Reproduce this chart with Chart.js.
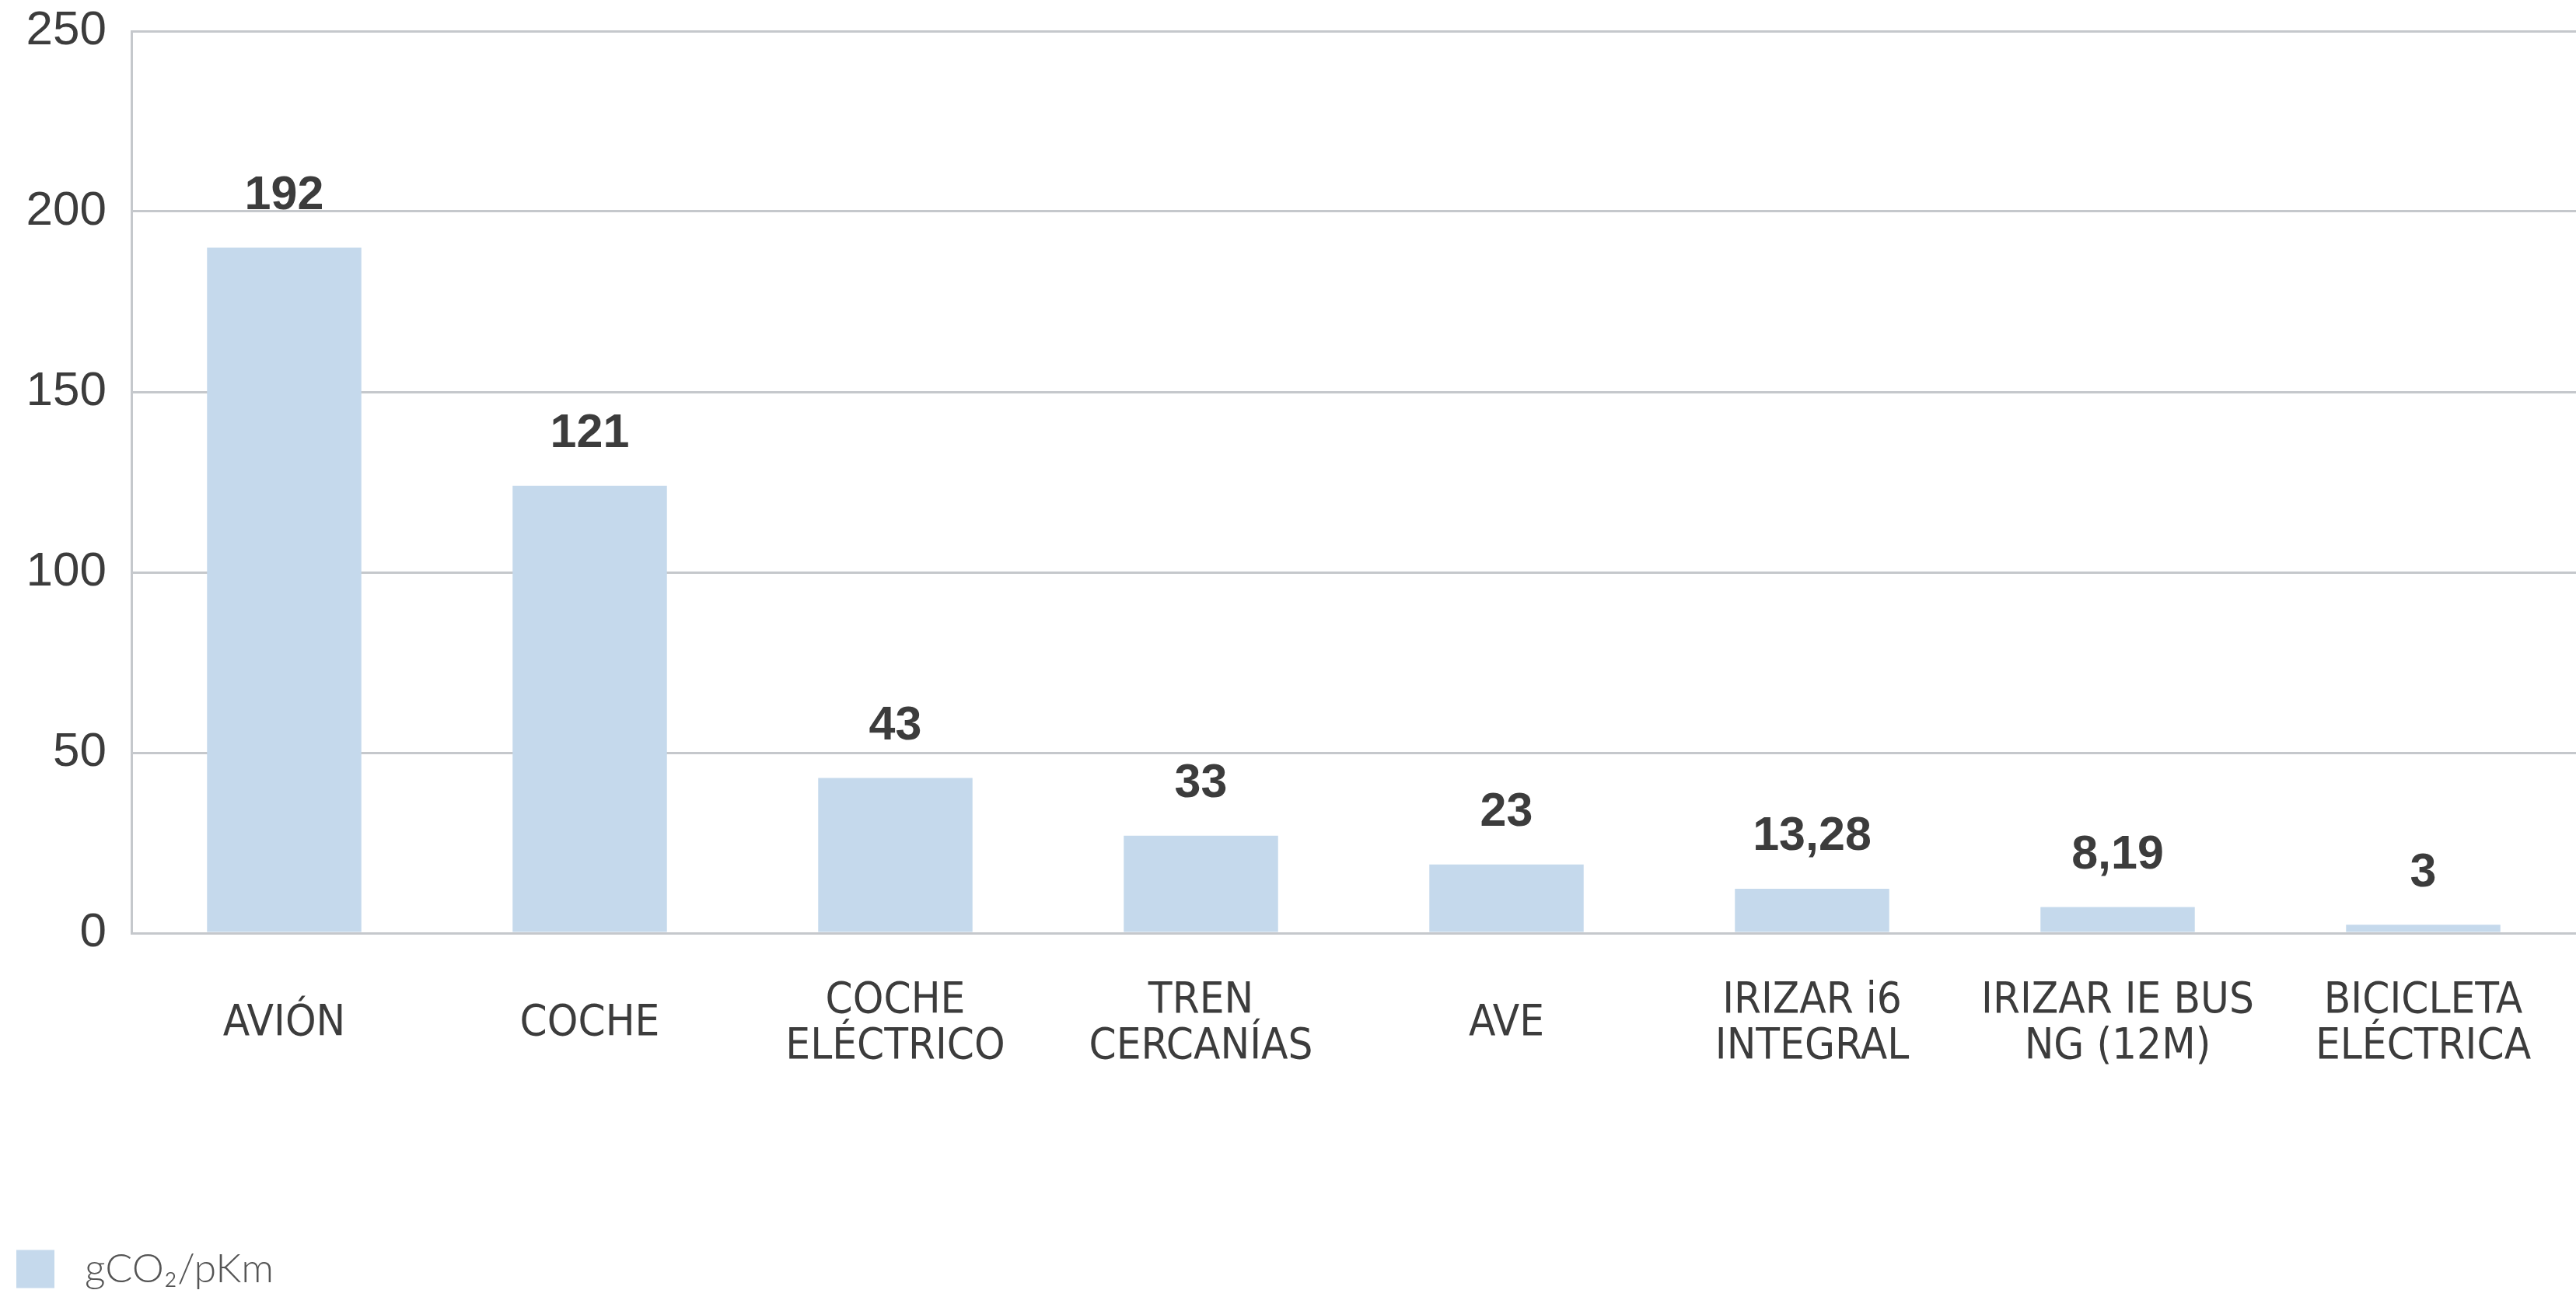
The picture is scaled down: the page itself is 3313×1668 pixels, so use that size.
<!DOCTYPE html>
<html>
<head>
<meta charset="utf-8">
<script src="https://cdn.jsdelivr.net/npm/chart.js@4.4.1/dist/chart.umd.min.js"></script>
<style>
  html, body { margin: 0; padding: 0; background: #fff; }
  #wrap { width: 3313px; height: 1668px; }
</style>
</head>
<body>
<div id="wrap"><canvas id="cCo2" width="3313" height="1668"></canvas></div>
<script>
// --- data ---
const categories = [
  ['AVIÓN'], ['COCHE'], ['COCHE', 'ELÉCTRICO'], ['TREN', 'CERCANÍAS'],
  ['AVE'], ['IRIZAR i6', 'INTEGRAL'], ['IRIZAR IE BUS', 'NG (12M)'], ['BICICLETA', 'ELÉCTRICA']
];
// bar heights as drawn (they don't quite match the printed numbers)
const barValues = [190, 124, 43, 27, 19, 12.3, 7.2, 2.3];
// numbers printed above each bar
const valueLabels = ['192', '121', '43', '33', '23', '13,28', '8,19', '3'];
const seriesName = 'gCO₂/pKm';
const yTicks = [0, 50, 100, 150, 200, 250];

const TXT = '#3c3c3c', GRID = '#c5c8cc', BAR = '#c5d9ec';
const NARROW = '"Liberation Sans Narrow", "DejaVu Sans Condensed", "Liberation Sans", sans-serif';
const SANS = '"Liberation Sans", "DejaVu Sans", sans-serif';

// bold numbers above the bars
const topLabels = {
  id: 'topLabels',
  afterDatasetsDraw(chart) {
    const ctx = chart.ctx;
    const meta = chart.getDatasetMeta(0);
    ctx.save();
    ctx.fillStyle = TXT;
    ctx.font = 'bold 61px ' + SANS;
    ctx.textAlign = 'center';
    ctx.textBaseline = 'bottom';
    meta.data.forEach((bar, i) => {
      ctx.fillText(valueLabels[i], bar.x, bar.y - 36);
    });
    ctx.restore();
  }
};

new Chart(document.getElementById('cCo2').getContext('2d'), {
  type: 'bar',
  data: {
    labels: categories,
    datasets: [{
      label: seriesName, data: barValues,
      backgroundColor: BAR, borderWidth: 0,
      categoryPercentage: 1, barPercentage: 0.505
    }]
  },
  options: {
    responsive: false, animation: false,
    layout: { padding: { top: 40, left: 11, right: 0, bottom: 0 } },
    plugins: {
      tooltip: { enabled: false },
      legend: {
        position: 'bottom', align: 'start',
        labels: {
          boxWidth: 49, boxHeight: 49, padding: 10,
          color: '#555', font: { family: 'Lato, ' + SANS, size: 52, weight: 300 },
          // a little more room between swatch and text, as in the original
          generateLabels(chart) {
            return Chart.defaults.plugins.legend.labels.generateLabels(chart)
              .map(l => Object.assign(l, { text: '\u2005' + l.text }));
          }
        }
      }
    },
    scales: {
      x: {
        grid: { display: false },
        border: { display: true, color: GRID, width: 3 },
        ticks: {
          color: TXT, padding: 79, maxRotation: 0, autoSkip: false, crossAlign: 'center',
          font: { family: NARROW, size: 56, lineHeight: 1.06 }
        },
        afterFit(s) { s.height = 396; s.paddingLeft = 0; s.paddingRight = 0; }
      },
      y: {
        min: 0, max: 250,
        afterBuildTicks(s) { s.ticks = yTicks.map(v => ({ value: v })); },
        grid: { color: GRID, lineWidth: 3, drawTicks: false },
        border: { display: true, color: GRID, width: 3 },
        ticks: { color: TXT, padding: 32, font: { family: SANS, size: 62 } },
        afterFit(s) { s.width = 158; s.paddingTop = 0; s.paddingBottom = 0; }
      }
    }
  },
  plugins: [topLabels]
});
</script>
</body>
</html>
